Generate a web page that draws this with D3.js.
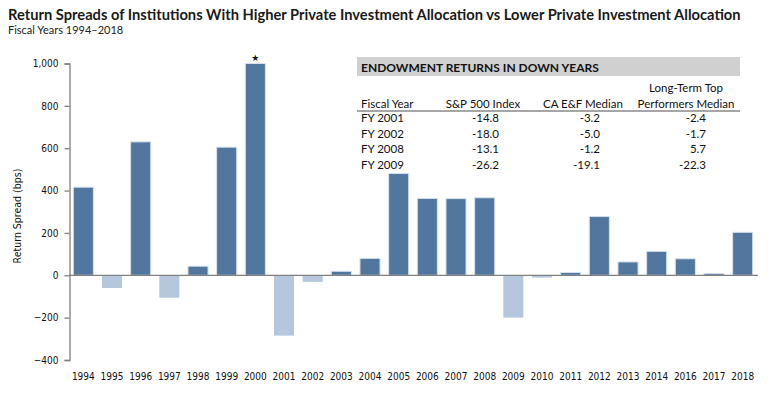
<!DOCTYPE html>
<html><head><meta charset="utf-8">
<script src="https://cdn.jsdelivr.net/npm/d3@7"></script>
<style>body{margin:0;background:#fff}svg{display:block}</style>
</head><body><svg id="c" width="782" height="398"></svg>
<script>
const years = ["1994","1995","1996","1997","1998","1999","2000","2001","2002","2003","2004","2005","2006","2007","2008","2009","2010","2011","2012","2013","2014","2016","2017","2018"];
const spreads = [416,-60,630,-106,43,605,1000,-285,-31,19,80,481,363,362,366,-200,-11,13,278,63,113,78,9,203];
const yTicks = [-400,-200,0,200,400,600,800,1000];
const tableTitle = "ENDOWMENT RETURNS IN DOWN YEARS";
const tableYears = ["FY 2001","FY 2002","FY 2008","FY 2009"];
const sp500 = [-14.8,-18.0,-13.1,-26.2];
const caMedian = [-3.2,-5.0,-1.2,-19.1];
const topPerformers = [-2.4,-1.7,5.7,-22.3];

const svg = d3.select("#c");
const x = d3.scaleBand().domain(years).range([69, 757]).paddingInner(0.3).paddingOuter(0.15);
const y = d3.scaleLinear().domain([-400, 1000]).range([360, 63.5]);

// Title
svg.append("text").attr("x", 8).attr("y", 20).attr("font-family", "Lato").attr("font-weight", 700)
  .attr("font-size", 14.7).attr("fill", "#1a1a1a")
  .text("Return Spreads of Institutions With Higher Private Investment Allocation vs Lower Private Investment Allocation");
svg.append("text").attr("x", 8).attr("y", 34).attr("font-family", "Lato").attr("font-size", 11).attr("fill", "#222")
  .text("Fiscal Years 1994–2018");

// bars
svg.append("g").selectAll("rect").data(years).join("rect")
  .attr("x", d => x(d))
  .attr("width", x.bandwidth())
  .attr("y", (d, i) => y(Math.max(0, spreads[i])))
  .attr("height", (d, i) => Math.abs(y(spreads[i]) - y(0)))
  .attr("fill", (d, i) => spreads[i] >= 0 ? "#51779f" : "#b4c7dc")
  .attr("stroke", (d, i) => spreads[i] >= 0 ? "#d6e2ee" : "none")
  .attr("stroke-width", 1);

// star on 2000
svg.append("text").attr("x", x("2000") + x.bandwidth() / 2).attr("y", 61).attr("text-anchor", "middle")
  .attr("font-family", "DejaVu Sans").attr("font-size", 9).attr("fill", "#111").text("★");

// y axis
const yAxis = svg.append("g").attr("transform", "translate(69.5,0)")
  .call(d3.axisLeft(y).tickValues(yTicks).tickSize(5).tickPadding(6).tickFormat(d3.format(",")));
yAxis.select(".domain").attr("stroke", "#808080").attr("stroke-width", 1.3);
yAxis.selectAll(".tick line").attr("stroke", "#808080").attr("stroke-width", 1.3);
yAxis.selectAll(".tick text").attr("font-family", "DejaVu Sans Condensed").attr("font-size", 10).attr("fill", "#111");

// zero line
svg.append("line").attr("x1", 69).attr("x2", 758).attr("y1", y(0)).attr("y2", y(0))
  .attr("stroke", "#808080").attr("stroke-width", 1.3);

// x labels
svg.append("g").selectAll("text").data(years).join("text")
  .attr("x", d => x(d) + x.bandwidth() / 2).attr("y", 380).attr("text-anchor", "middle")
  .attr("font-family", "DejaVu Sans Condensed").attr("font-size", 10).attr("fill", "#111").text(d => d);

// y title
svg.append("text").attr("transform", "translate(21,216) rotate(-90)").attr("text-anchor", "middle")
  .attr("font-family", "DejaVu Sans Condensed").attr("font-size", 10.5).attr("fill", "#111").text("Return Spread (bps)");

// table
const tg = svg.append("g").attr("font-family", "Lato").attr("font-size", 11.5).attr("fill", "#111");
tg.append("rect").attr("x", 357).attr("y", 57).attr("width", 383).attr("height", 19).attr("fill", "#d0d0d0");
tg.append("text").attr("x", 361).attr("y", 72).attr("font-weight", 700).attr("font-size", 12).text(tableTitle);
tg.append("text").attr("x", 686).attr("y", 92).attr("text-anchor", "middle").text("Long-Term Top");
const headers = [["Fiscal Year", 361, "start"], ["S&P 500 Index", 483, "middle"], ["CA E&F Median", 583, "middle"], ["Performers Median", 686, "middle"]];
headers.forEach(h => tg.append("text").attr("x", h[1]).attr("y", 107.5).attr("text-anchor", h[2]).text(h[0]));
tg.append("line").attr("x1", 357).attr("x2", 740).attr("y1", 111).attr("y2", 111).attr("stroke", "#a6a6a6").attr("stroke-width", 2.2);
const rowY = d3.scalePoint().domain(tableYears).range([122, 168.5]);
tableYears.forEach((fy, i) => {
  const ry = rowY(fy);
  tg.append("text").attr("x", 361).attr("y", ry).text(fy);
  tg.append("text").attr("x", 499).attr("y", ry).attr("text-anchor", "end").text(sp500[i].toFixed(1));
  tg.append("text").attr("x", 600).attr("y", ry).attr("text-anchor", "end").text(caMedian[i].toFixed(1));
  tg.append("text").attr("x", 706).attr("y", ry).attr("text-anchor", "end").text(topPerformers[i].toFixed(1));
});
</script></body></html>
